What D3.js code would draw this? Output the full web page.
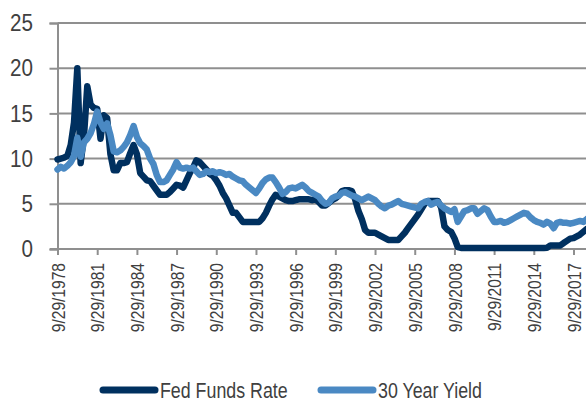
<!DOCTYPE html>
<html>
<head>
<meta charset="utf-8">
<script src="https://cdn.jsdelivr.net/npm/d3@7"></script>
<style>
  body { margin: 0; background: #fff; }
  svg text { font-family: "Liberation Sans Narrow", "Liberation Sans", Arial, sans-serif; fill: #404040; }
</style>
</head>
<body>
<svg width="586" height="403"></svg>
<script>
// quarterly observations starting 9/29/1978
const startDate = new Date(1978, 8, 29);

const fedFunds = [
  9.9, 10.0, 10.1, 10.3, 11.5, 14.0, 20.0, 9.5, 12.5, 18.0,
  16.0, 15.6, 15.5, 12.2, 14.8, 14.5, 10.5, 8.7, 8.7, 9.5,
  9.5, 9.6, 10.6, 11.5, 10.5, 8.4, 8.0, 7.6, 7.5, 7.0,
  6.5, 6.0, 6.0, 6.0, 6.3, 6.7, 7.1, 7.0, 6.8, 7.6,
  8.4, 9.0, 9.8, 9.6, 9.2, 8.8, 8.3, 8.1, 7.6, 7.0,
  6.2, 5.6, 4.8, 4.0, 4.0, 3.5, 3.0, 3.0, 3.0, 3.0,
  3.0, 3.0, 3.4, 4.0, 4.8, 5.5, 6.0, 5.8, 5.6, 5.4,
  5.3, 5.3, 5.4, 5.5, 5.5, 5.5, 5.5, 5.4, 5.5, 5.2,
  4.8, 4.8, 5.1, 5.4, 5.6, 5.9, 6.4, 6.5, 6.5, 6.4,
  5.5, 4.2, 3.3, 2.1, 1.8, 1.8, 1.8, 1.6, 1.4, 1.2,
  1.0, 1.0, 1.0, 1.0, 1.4, 1.8, 2.3, 2.8, 3.3, 3.8,
  4.4, 5.0, 5.3, 5.3, 5.3, 5.3, 4.6, 2.5, 2.1, 1.9,
  1.2, 0.2, 0.12, 0.12, 0.12, 0.12, 0.12, 0.12, 0.12, 0.12,
  0.12, 0.12, 0.12, 0.12, 0.12, 0.12, 0.12, 0.12, 0.12, 0.12,
  0.12, 0.12, 0.12, 0.12, 0.12, 0.12, 0.12, 0.12, 0.15, 0.38,
  0.38, 0.38, 0.4, 0.66, 0.9, 1.15, 1.2, 1.4, 1.6, 1.9,
  2.2
];

const yield30 = [
  8.8, 9.1, 8.9, 9.2, 9.6, 10.3, 12.3, 10.2, 11.8, 12.2,
  12.8, 13.8, 15.2, 14.0, 13.3, 13.9, 12.6, 10.8, 10.7, 10.9,
  11.3, 11.8, 12.6, 13.6, 12.4, 11.7, 11.4, 11.0, 10.0, 9.4,
  8.2, 7.4, 7.4, 7.6, 8.2, 8.8, 9.6, 9.0, 8.9, 9.0,
  8.9, 9.0, 8.6, 8.2, 8.3, 8.6, 8.5, 8.6, 8.4, 8.5,
  8.4, 8.2, 8.3, 8.0, 7.8, 7.6, 7.5, 7.1, 6.8, 6.5,
  6.2, 6.7, 7.3, 7.7, 7.9, 7.9, 7.4, 6.8, 6.1, 6.3,
  6.7, 6.8, 6.7, 6.9, 7.1, 6.8, 6.4, 6.2, 6.0, 5.8,
  5.3, 5.0, 5.1, 5.6, 5.8, 5.9, 6.2, 6.3, 6.1, 5.9,
  5.8, 5.6, 5.4, 5.6, 5.8, 5.6, 5.4, 5.0, 4.7, 4.5,
  4.8, 4.9, 5.1, 5.3, 5.0, 4.9, 4.8, 4.7, 4.6, 4.5,
  5.0, 5.2, 5.3, 4.9, 5.1, 5.2, 4.8, 4.5, 4.3, 4.1,
  4.4, 3.0, 3.6, 4.2, 4.3, 4.5, 4.5, 3.9, 4.2, 4.5,
  4.3, 3.6, 3.0, 3.0, 3.1, 2.9, 3.0, 3.2, 3.4, 3.6,
  3.8, 4.0, 3.9, 3.5, 3.2, 3.0, 2.9, 2.7, 3.0, 2.8,
  2.3, 2.9, 3.0, 2.9, 2.9, 2.8, 2.9, 3.0, 3.1, 3.0,
  3.3
];

const yTicks = [0, 5, 10, 15, 20, 25];
const tickYears = d3.range(1978, 2018, 3);
const seriesNames = ["Fed Funds Rate", "30 Year Yield"];
const seriesColors = ["#00305f", "#4a89c3"];

const dates = fedFunds.map((d, i) => d3.timeMonth.offset(startDate, i * 3));

const svg = d3.select("svg");
const narrow = 0.82; // the original uses a condensed face

const x = d3.scaleTime()
  .domain([new Date(1978, 8, 29), new Date(2017, 8, 29)])
  .range([57.5, 573.5]);
const y = d3.scaleLinear().domain([0, 25]).range([249, 23]);

// gridlines
svg.append("g")
  .selectAll("line")
  .data(yTicks.filter(d => d > 0))
  .join("line")
  .attr("x1", 57.5).attr("x2", 586)
  .attr("y1", d => y(d)).attr("y2", d => y(d))
  .attr("stroke", "#8f8f8f").attr("stroke-width", 2);

// y axis
const yAxis = svg.append("g")
  .attr("transform", "translate(57.5,0)")
  .call(d3.axisLeft(y).tickValues(yTicks).tickSize(8));
yAxis.select(".domain").attr("stroke", "#8f8f8f").attr("stroke-width", 2);
yAxis.selectAll(".tick line").attr("stroke", "#8f8f8f").attr("stroke-width", 2);
yAxis.selectAll("text")
  .attr("font-size", 24)
  .attr("fill", "#404040")
  .attr("x", 0)
  .attr("transform", "translate(-24.5,0) scale(0.86,1)");

// x axis
const xAxis = svg.append("g")
  .attr("transform", "translate(0,249)")
  .call(d3.axisBottom(x)
    .tickValues(tickYears.map(yr => new Date(yr, 8, 29)))
    .tickFormat(d3.timeFormat("%-m/%-d/%Y"))
    .tickSize(6)
    .tickSizeOuter(0));
xAxis.select(".domain").attr("d", "M50,0H586").attr("stroke", "#8f8f8f").attr("stroke-width", 2);
xAxis.selectAll(".tick line").attr("stroke", "#8f8f8f").attr("stroke-width", 2);
xAxis.selectAll("text")
  .attr("font-size", 19)
  .attr("fill", "#404040")
  .attr("text-anchor", "end")
  .attr("transform", `translate(0,14) rotate(-90) scale(${narrow},1)`)
  .attr("x", 0).attr("y", 0).attr("dy", "0.35em");

// lines
const series = [fedFunds, yield30];
const line = d3.line()
  .x((d, i) => x(dates[i]))
  .y(d => y(d));

svg.append("g")
  .selectAll("path")
  .data(series)
  .join("path")
  .attr("d", line)
  .attr("fill", "none")
  .attr("stroke", (d, i) => seriesColors[i])
  .attr("stroke-width", 6.5)
  .attr("stroke-linejoin", "round")
  .attr("stroke-linecap", "round");

// legend
const legendItems = [
  { name: seriesNames[0], color: seriesColors[0], x: 103 },
  { name: seriesNames[1], color: seriesColors[1], x: 321 }
];
const lg = svg.append("g").attr("transform", "translate(0,390)");
lg.selectAll("line")
  .data(legendItems)
  .join("line")
  .attr("x1", d => d.x).attr("x2", d => d.x + 52)
  .attr("y1", 0).attr("y2", 0)
  .attr("stroke", d => d.color)
  .attr("stroke-width", 7)
  .attr("stroke-linecap", "round");
lg.selectAll("text")
  .data(legendItems)
  .join("text")
  .attr("transform", d => `translate(${d.x + 57},0) scale(0.81,1)`)
  .attr("dy", "0.36em")
  .attr("font-size", 22)
  .attr("fill", "#404040")
  .text(d => d.name);
</script>
</body>
</html>
